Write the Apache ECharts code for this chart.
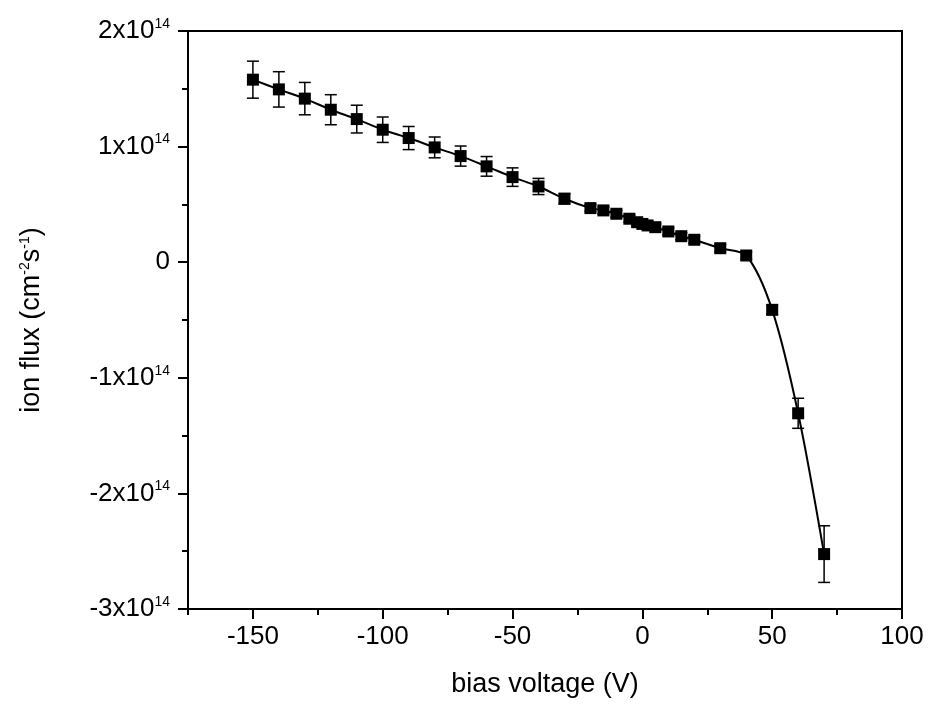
<!DOCTYPE html>
<html>
<head>
<meta charset="utf-8">
<script src="https://cdn.jsdelivr.net/npm/echarts@6/dist/echarts.min.js"></script>
<style>
html,body{margin:0;padding:0;background:#fff;}
#chart{width:928px;height:709px;}
</style>
</head>
<body>
<div id="chart"></div>
<script>
// bias voltage (V)
const biasVoltage = [-150,-140,-130,-120,-110,-100,-90,-80,-70,-60,-50,-40,-30,-20,-15,-10,-5,-2,0,2,5,10,15,20,30,40,50,60,70];
// ion flux in units of 1e14 cm^-2 s^-1
const ionFlux = [1.579,1.495,1.415,1.319,1.238,1.146,1.074,0.993,0.918,0.829,0.736,0.655,0.549,0.468,0.448,0.419,0.376,0.346,0.331,0.318,0.303,0.266,0.225,0.194,0.121,0.058,-0.412,-1.307,-2.525];
// symmetric error (same units)
const fluxError = [0.16,0.153,0.14,0.13,0.12,0.11,0.10,0.09,0.087,0.085,0.08,0.07,0.045,0.03,0.03,0.03,0.03,0.03,0.03,0.03,0.03,0.03,0.03,0.03,0.03,0.03,0.04,0.13,0.245];
const xMajorTicks = [-150,-100,-50,0,50,100];
const xMinorTicks = [-175,-125,-75,-25,25,75];
const yTicks = [-3,-2,-1,0,1,2];

const font = 'Liberation Sans, Arial, sans-serif';
const pts = biasVoltage.map((v,i)=>[v, ionFlux[i]]);
const errData = biasVoltage.map((v,i)=>[v, ionFlux[i]-fluxError[i], ionFlux[i]+fluxError[i]]);
const supStyle = {fontFamily:font,fontSize:14,color:'#000',padding:[0,0,14,0]};

const chart = echarts.init(document.getElementById('chart'), null, {renderer:'canvas'});
chart.setOption({
  animation:false,
  backgroundColor:'#fff',
  grid:{left:188,right:26,top:31,bottom:100,show:true,borderColor:'#000',borderWidth:2,backgroundColor:'transparent'},
  xAxis:[{
    type:'value',min:-175,max:100,
    name:'bias voltage (V)',nameLocation:'middle',nameGap:62,
    nameTextStyle:{fontFamily:font,fontSize:27,color:'#000'},
    axisLine:{show:true,onZero:false,lineStyle:{color:'#000',width:2}},
    axisTick:{show:true,inside:false,length:10,lineStyle:{color:'#000',width:2},customValues:xMajorTicks},
    axisLabel:{show:true,customValues:xMajorTicks,margin:15,fontFamily:font,fontSize:26,color:'#000',formatter:v=>String(v)},
    splitLine:{show:false}
  },{
    type:'value',min:-175,max:100,position:'bottom',
    axisLine:{show:false,onZero:false},
    axisTick:{show:true,inside:false,length:6,lineStyle:{color:'#000',width:2},customValues:xMinorTicks},
    axisLabel:{show:false},
    splitLine:{show:false}
  }],
  yAxis:{
    type:'value',min:-3,max:2,interval:1,
    name:'ion flux (cm{s|-2}s{s|-1})',nameLocation:'middle',nameGap:142,nameRotate:90,
    nameTextStyle:{fontFamily:font,fontSize:27,color:'#000',rich:{s:supStyle}},
    axisLine:{show:true,onZero:false,lineStyle:{color:'#000',width:2}},
    axisTick:{show:true,inside:false,length:10,lineStyle:{color:'#000',width:2}},
    minorTick:{show:true,splitNumber:2,length:6,lineStyle:{color:'#000',width:2}},
    axisLabel:{margin:18,fontFamily:font,fontSize:26,color:'#000',
      formatter:v=> v===0 ? '0' : (v+'x10{s|14}'),
      rich:{s:supStyle}},
    splitLine:{show:false}
  },
  series:[{
    type:'custom',
    data:errData,
    z:2,
    renderItem:function(params,api){
      const x=api.value(0);
      const lo=api.coord([x,api.value(1)]);
      const hi=api.coord([x,api.value(2)]);
      const w=6;
      const st={stroke:'#000',lineWidth:1.5};
      return {type:'group',children:[
        {type:'line',shape:{x1:hi[0],y1:hi[1],x2:lo[0],y2:lo[1]},style:st},
        {type:'line',shape:{x1:hi[0]-w,y1:hi[1],x2:hi[0]+w,y2:hi[1]},style:st},
        {type:'line',shape:{x1:lo[0]-w,y1:lo[1],x2:lo[0]+w,y2:lo[1]},style:st}
      ]};
    }
  },{
    type:'line',
    data:pts,
    z:3,
    smooth:0.3,
    symbol:'rect',
    symbolSize:12,
    showAllSymbol:true,
    itemStyle:{color:'#000'},
    lineStyle:{color:'#000',width:2}
  }]
});
</script>
</body>
</html>
